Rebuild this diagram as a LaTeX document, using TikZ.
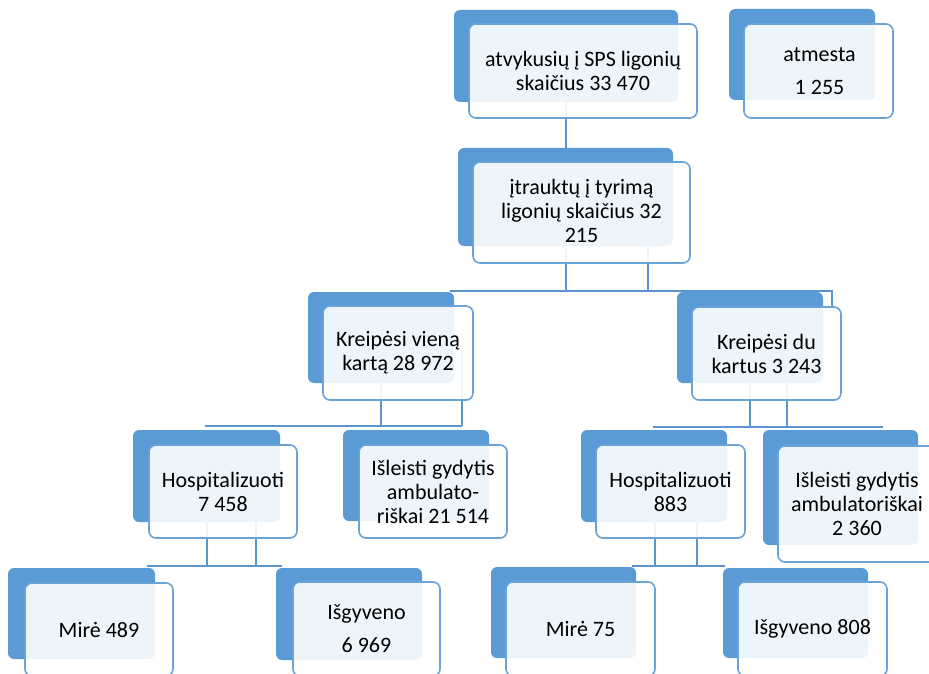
\documentclass[tikz,border=0pt]{standalone}
\usepackage{fontspec}
\setmainfont{Carlito}
\usetikzlibrary{fit,backgrounds}
\definecolor{boxblue}{HTML}{5B9BD5}
\definecolor{edgeblue}{HTML}{6AA3D8}
\definecolor{lineblue}{HTML}{5B95CC}
\tikzset{
  backbox/.style={fill=boxblue, draw=none, rounded corners=6pt, inner sep=0pt, outer sep=0pt},
  frontbox/.style={draw=edgeblue, line width=1.6pt, fill=white, fill opacity=0.9,
    rounded corners=7pt, inner sep=0pt, outer sep=0pt},
  boxtext/.style={inner sep=0pt, align=center, font=\fontsize{22pt}{24pt}\selectfont, text=black},
  conn/.style={draw=lineblue, line width=1.7pt},
}
\begin{document}
\begin{tikzpicture}[x=1pt,y=-1pt]
\useasboundingbox (0,0) rectangle (929,674);
\clip (0,0) rectangle (929,674);
% back boxes
\node[backbox, fit={(454,10) (678,102)}] (b1) {};
\node[backbox, fit={(729,9) (875,100)}] (b2) {};
\node[backbox, fit={(458,148) (673,246)}] (b3) {};
\node[backbox, fit={(308,292) (454,383)}] (b4) {};
\node[backbox, fit={(677,292) (823,383)}] (b5) {};
\node[backbox, fit={(133,430) (280,522)}] (b6) {};
\node[backbox, fit={(343,430) (489,521)}] (b7) {};
\node[backbox, fit={(581,430) (727,522)}] (b8) {};
\node[backbox, fit={(763,430) (918,545)}] (b9) {};
\node[backbox, fit={(8,568) (155,659)}] (b10) {};
\node[backbox, fit={(276,568) (422,660)}] (b11) {};
\node[backbox, fit={(491,567) (636,658)}] (b12) {};
\node[backbox, fit={(723,568) (868,658)}] (b13) {};
% front boxes
\node[frontbox, fit={(469,24) (697,118)}] (f1) {};
\node[frontbox, fit={(744,24) (893,118)}] (f2) {};
\node[frontbox, fit={(473,162) (690,263)}] (f3) {};
\node[frontbox, fit={(323,306) (473,400)}] (f4) {};
\node[frontbox, fit={(692,307) (841,400)}] (f5) {};
\node[frontbox, fit={(149,445) (297,538)}] (f6) {};
\node[frontbox, fit={(359,445) (507,538)}] (f7) {};
\node[frontbox, fit={(596,445) (745,538)}] (f8) {};
\node[frontbox, fit={(778,446) (936,562)}] (f9) {};
\node[frontbox, fit={(25,583) (173,676)}] (f10) {};
\node[frontbox, fit={(293,582) (440,676)}] (f11) {};
\node[frontbox, fit={(506,582) (655,676)}] (f12) {};
\node[frontbox, fit={(738,582) (887,676)}] (f13) {};
% texts
\node[boxtext] (t1) at (f1.center) {atvykusių į SPS ligonių\\skaičius 33 470};
\node[boxtext] (t2) at ([xshift=1pt]f2.center) {atmesta\\[9pt]1 255};
\node[boxtext] (t3) at ([yshift=2pt]f3.center) {įtrauktų į tyrimą\\ligonių skaičius 32\\215};
\node[boxtext] (t4) at (f4.center) {Kreipėsi vieną\\kartą 28 972};
\node[boxtext] (t5) at (f5.center) {Kreipėsi du\\kartus 3 243};
\node[boxtext] (t6) at (f6.center) {Hospitalizuoti\\7 458};
\node[boxtext] (t7) at (f7.center) {Išleisti gydytis\\ambulato-\\riškai 21 514};
\node[boxtext] (t8) at (f8.center) {Hospitalizuoti\\883};
\node[boxtext] (t9) at (f9.center) {Išleisti gydytis\\ambulatoriškai\\2 360};
\node[boxtext] (t10) at (f10.center) {Mirė 489};
\node[boxtext] (t11) at (f11.center) {Išgyveno\\[9pt]6 969};
\node[boxtext] (t12) at (f12.center) {Mirė 75};
\node[boxtext] (t13) at (f13.center) {Išgyveno 808};
% connectors
\begin{scope}[on background layer]
  \coordinate (k1) at (450,291);
  \coordinate (k2) at (832,291);
  \coordinate (k3) at (205,426);
  \coordinate (k4) at (653,427);
  \coordinate (k5) at (883,427);
  \coordinate (k6) at (147,566);
  \coordinate (k7) at (632,566);
  \draw[conn] (b1.center) -- (b1.center |- b3.center);
  % from b3
  \draw[conn] (566,200) -- (566,291);
  \draw[conn] (648,200) -- (648,291);
  \draw[conn] (k1) -- (k2) -- (k2 |- f5.north);
  % from b4
  \draw[conn] (381,350) -- (381,426);
  \draw[conn] (462,350) -- (462,426);
  \draw[conn] (k3) -- (462,426);
  % from b5
  \draw[conn] (750,350) -- (750,427);
  \draw[conn] (787,350) -- (787,427);
  \draw[conn] (k4) -- (k5);
  % from b6
  \draw[conn] (207,490) -- (207,566);
  \draw[conn] (256,490) -- (256,566);
  \draw[conn] (k6) -- (282,566);
  % from b8
  \draw[conn] (655,490) -- (655,566);
  \draw[conn] (697,490) -- (697,566);
  \draw[conn] (k7) -- (725,566);
\end{scope}
\end{tikzpicture}
\end{document}
